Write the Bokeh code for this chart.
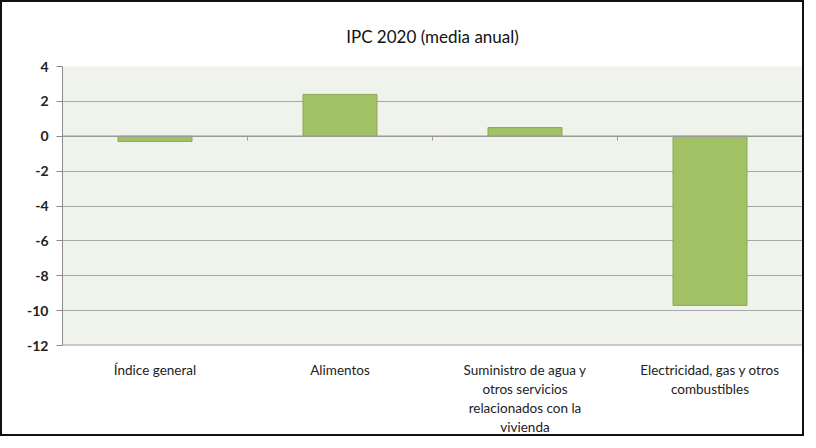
from bokeh.plotting import figure
from bokeh.models import FactorRange, FixedTicker, Span
from bokeh.embed import file_html
from bokeh.resources import INLINE

title_text = "IPC 2020 (media anual)"
categories = ["Índice general", "Alimentos",
              "Suministro de agua y\notros servicios\nrelacionados con la\nvivienda",
              "Electricidad, gas y otros\ncombustibles"]
values = [-0.3, 2.4, 0.5, -9.7]
y_ticks = [-12, -10, -8, -6, -4, -2, 0, 2, 4]

FONT = "Lato"

p = figure(width=800, height=432, x_range=FactorRange(*categories, range_padding=0),
           y_range=(-12, 4), output_backend="svg", toolbar_location=None,
           title=title_text)
p.styles = {"border": "2px solid #111", "box-sizing": "content-box"}
p.min_border_left = 60
p.min_border_right = 4
p.min_border_top = 64
p.min_border_bottom = 78
p.background_fill_color = "#f0f2ec"
p.border_fill_color = "white"
p.outline_line_color = None

p.title.align = "center"
p.title.text_font = FONT
p.title.text_font_size = "17px"
p.title.text_font_style = "normal"
p.title.text_color = "#111111"
p.title.standoff = 40

p.vbar(x=categories, top=values, bottom=0, width=0.4,
       fill_color="#a2c064", line_color="#8caa50", line_width=1)

zero = Span(location=0, dimension="width", line_color="#9a9a9a", line_width=1.5)
p.add_layout(zero)
bottom_line = Span(location=y_ticks[0], dimension="width", line_color="#a0a0a0", line_width=2)
p.add_layout(bottom_line)
n = len(categories)
bx = [i for i in range(1, n)]
p.segment(x0=bx, x1=bx, y0=[0] * len(bx), y1=[-0.25] * len(bx), line_color="#9a9a9a", line_width=1)

p.yaxis.ticker = FixedTicker(ticks=y_ticks)
p.yaxis.major_label_overrides = {t: str(t) for t in y_ticks}
p.yaxis.minor_tick_line_color = None
p.yaxis.axis_line_color = "#8a8a8a"
p.yaxis.major_tick_line_color = "#8a8a8a"
p.yaxis.major_tick_out = 6
p.yaxis.major_tick_in = 0
p.yaxis.major_label_text_font = FONT
p.yaxis.major_label_text_font_size = "14px"
p.yaxis.major_label_text_font_style = "bold"
p.yaxis.major_label_text_color = "#222222"
p.yaxis.major_label_standoff = 8

p.xaxis.axis_line_color = None
p.xaxis.major_tick_line_color = None
p.xaxis.minor_tick_line_color = None
p.xaxis.major_label_text_font = FONT
p.xaxis.major_label_text_font_size = "13.5px"
p.xaxis.major_label_text_color = "#222222"
p.xaxis.major_label_standoff = 10

p.xgrid.grid_line_color = None
p.ygrid.ticker = FixedTicker(ticks=[t for t in y_ticks if t < 4])
p.ygrid.grid_line_color = "#a8a8a8"
p.ygrid.grid_line_width = 1.2

open("out.html", "w").write(file_html(p, INLINE))
